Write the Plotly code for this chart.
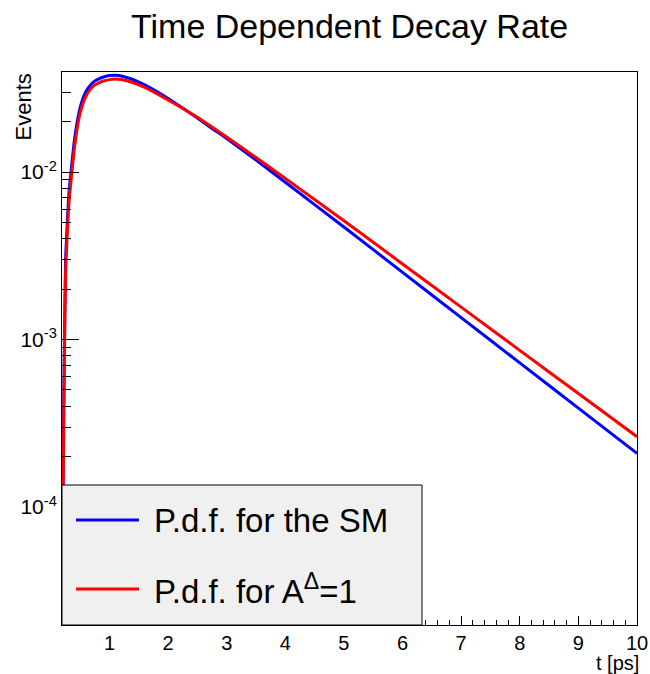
import plotly.graph_objects as go

# Proper time t [ps]
t_vals = [0.20, 0.22, 0.25, 0.27, 0.30, 0.325, 0.35, 0.40, 0.45, 0.50, 0.55, 0.60, 0.65,
          0.70, 0.75, 0.80, 0.90, 1.00, 1.10, 1.20, 1.40, 1.60, 1.80, 2.00, 2.25, 2.50,
          2.75, 3.00, 3.50, 4.00, 5.00, 6.00, 7.00, 8.00, 9.00, 10.0]

# P.d.f. for the SM (blue)
sm_vals = [5.93e-5, 4.35e-4, 2.90e-3, 4.21e-3, 6.81e-3, 8.66e-3, 1.056e-2, 1.531e-2, 2.002e-2,
           2.427e-2, 2.766e-2, 3.024e-2, 3.217e-2, 3.375e-2, 3.494e-2, 3.576e-2, 3.691e-2,
           3.763e-2, 3.778e-2, 3.742e-2, 3.566e-2, 3.311e-2, 3.032e-2, 2.747e-2, 2.407e-2,
           2.098e-2, 1.821e-2, 1.585e-2, 1.179e-2, 8.69e-3, 4.695e-3, 2.519e-3, 1.351e-3,
           7.26e-4, 3.894e-4, 2.09e-4]

# P.d.f. for A^Delta = 1 (red)
ad_vals = [4.83e-5, 3.31e-4, 2.43e-3, 3.62e-3, 5.93e-3, 7.60e-3, 9.34e-3, 1.372e-2, 1.831e-2,
           2.250e-2, 2.582e-2, 2.842e-2, 3.045e-2, 3.196e-2, 3.307e-2, 3.385e-2, 3.494e-2,
           3.561e-2, 3.590e-2, 3.566e-2, 3.421e-2, 3.204e-2, 2.950e-2, 2.691e-2, 2.394e-2,
           2.121e-2, 1.856e-2, 1.618e-2, 1.219e-2, 9.16e-3, 5.12e-3, 2.827e-3, 1.561e-3,
           8.62e-4, 4.76e-4, 2.63e-4]

legend_labels = ["P.d.f. for the SM", "P.d.f. for A<sup>Δ</sup>=1"]
series_colors = ["#0000ff", "#ff0000"]

x_tick_vals = [1, 2, 3, 4, 5, 6, 7, 8, 9, 10]
y_tick_vals = [1e-4, 1e-3, 1e-2]
y_tick_text = ["10<sup>-4</sup>", "10<sup>-3</sup>", "10<sup>-2</sup>"]
y_minor_vals = [m * 10.0 ** e for e in (-5, -4, -3, -2) for m in range(2, 10)]

FONT = "Liberation Sans, Arial, Helvetica, sans-serif"

fig = go.Figure()
fig.add_trace(go.Scatter(x=t_vals, y=sm_vals, mode="lines", name=legend_labels[0],
                         line=dict(color=series_colors[0], width=3, shape="spline", smoothing=0.6),
                         showlegend=False))
fig.add_trace(go.Scatter(x=t_vals, y=ad_vals, mode="lines", name=legend_labels[1],
                         line=dict(color=series_colors[1], width=3, shape="spline", smoothing=0.6),
                         showlegend=False))

W, H = 650, 674
ml, mr, mt, mb = 62, 13, 72, 49
pw, ph = W - ml - mr, H - mt - mb

def px(xp):
    return (xp - ml) / pw

def py(yp):
    return (H - mb - yp) / ph

fig.update_layout(
    width=W, height=H,
    margin=dict(l=ml, r=mr, t=mt, b=mb, pad=0, autoexpand=False),
    paper_bgcolor="white", plot_bgcolor="white",
    font=dict(family=FONT, color="black"),
    xaxis=dict(range=[0.19, 10], showgrid=False, zeroline=False, automargin=False,
               showline=True, linecolor="black", linewidth=1, mirror=True,
               ticks="inside", ticklen=9, tickwidth=1, tickcolor="black",
               tickmode="array", tickvals=x_tick_vals,
               tickfont=dict(size=20, family=FONT), ticklabelstandoff=0,
               minor=dict(ticks="inside", ticklen=5, dtick=0.2, tick0=0,
                          tickcolor="black", showgrid=False)),
    yaxis=dict(type="log", range=[-4.704, -1.403], showgrid=False, zeroline=False,
               automargin=False,
               showline=True, linecolor="black", linewidth=1, mirror=True,
               ticks="inside", ticklen=17, tickwidth=1, tickcolor="black",
               tickmode="array", tickvals=y_tick_vals, ticktext=y_tick_text,
               tickfont=dict(size=21, family=FONT),
               minor=dict(ticks="inside", ticklen=9, tickmode="array",
                          tickvals=y_minor_vals, tickcolor="black", showgrid=False)),
)

annotations = [
    dict(text="Time Dependent Decay Rate", xref="paper", yref="paper",
         x=0.5, y=py(26), xanchor="center", yanchor="middle", showarrow=False,
         font=dict(size=34, family=FONT)),
    dict(text="Events", xref="paper", yref="paper", x=px(23), y=py(72),
         xanchor="center", yanchor="top", textangle=-90, showarrow=False,
         font=dict(size=22, family=FONT)),
    dict(text="t [ps]", xref="paper", yref="paper", x=px(641), y=py(663),
         xanchor="right", yanchor="middle", showarrow=False,
         font=dict(size=20, family=FONT)),
]

# Legend box (drawn by hand to match the ROOT TLegend layout)
shapes = [
    dict(type="rect", xref="paper", yref="paper", x0=px(62), x1=px(422),
         y0=py(625), y1=py(485), fillcolor="#f0f0f0",
         line=dict(color="black", width=1), layer="above"),
]
entry_y = [520, 589]
for lab, col, yy in zip(legend_labels, series_colors, entry_y):
    shapes.append(dict(type="line", xref="paper", yref="paper", x0=px(76), x1=px(139),
                       y0=py(yy), y1=py(yy), line=dict(color=col, width=3), layer="above"))
    annotations.append(dict(text=lab, xref="paper", yref="paper", x=px(152), y=py(yy),
                            xanchor="left", yanchor="middle", showarrow=False,
                            font=dict(size=33, family=FONT)))

fig.update_layout(shapes=shapes, annotations=annotations)
fig.write_html("out.html")
